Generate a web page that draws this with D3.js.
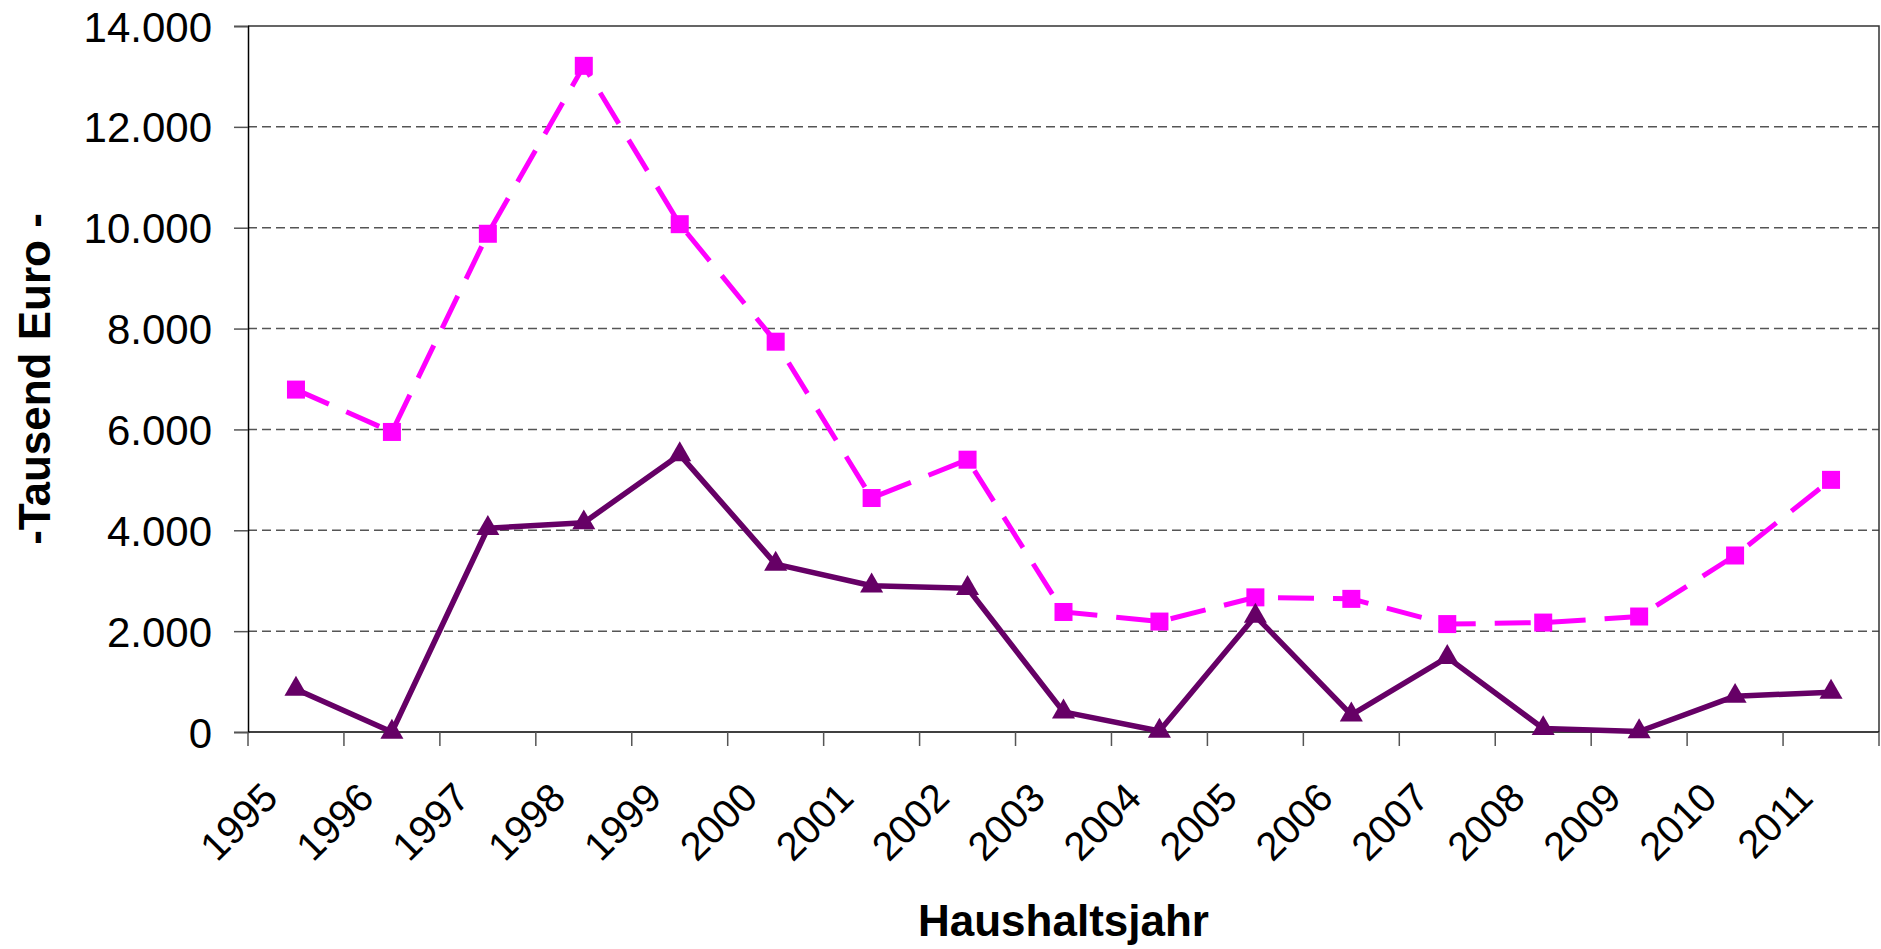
<!DOCTYPE html>
<html>
<head>
<meta charset="utf-8">
<script src="https://cdn.jsdelivr.net/npm/d3@7"></script>
<style>
  body { margin: 0; background: #fff; }
  svg { display: block; font-family: "Liberation Sans", Arial, sans-serif; }
</style>
</head>
<body>
<svg id="chart" width="1881" height="949"></svg>
<script>
const years = ["1995", "1996", "1997", "1998", "1999", "2000", "2001", "2002", "2003",
  "2004", "2005", "2006", "2007", "2008", "2009", "2010", "2011"];
// dashed magenta series (squares)
const seriesA = [6790, 5950, 9880, 13210, 10070, 7740, 4640, 5400, 2380,
  2190, 2670, 2640, 2140, 2170, 2290, 3500, 5000];
// solid purple series (triangles)
const seriesB = [850, 0, 4040, 4150, 5500, 3330, 2900, 2850, 400,
  20, 2300, 340, 1480, 70, 10, 710, 790];
const yTicks = [0, 2000, 4000, 6000, 8000, 10000, 12000, 14000];

const magenta = "#ff00ff";
const purple = "#660066";

const marginLeft = 248, marginRight = 1879, marginTop = 26, marginBottom = 732;

const svg = d3.select("#chart");

const x = d3.scaleBand().domain(years).range([marginLeft, marginRight]).padding(0);
const y = d3.scaleLinear().domain([0, 14000]).range([marginBottom, marginTop]);
const cx = (d, i) => x(years[i]) + x.bandwidth() / 2;

const fmt = (v) => d3.format(",")(v).replace(/,/g, ".");

// gridlines
svg.append("g")
  .selectAll("line")
  .data(yTicks.filter((t) => t > 0 && t < 14000))
  .enter()
  .append("line")
  .attr("x1", marginLeft)
  .attr("x2", marginRight)
  .attr("y1", (d) => y(d))
  .attr("y2", (d) => y(d))
  .style("stroke", "#555")
  .style("stroke-width", 1.5)
  .style("stroke-dasharray", "9,5");

// plot border (top and right)
svg.append("path")
  .attr("d", `M${marginLeft},${marginTop}H${marginRight}V${marginBottom}`)
  .style("fill", "none")
  .style("stroke", "#333")
  .style("stroke-width", 1.5);

// y axis
const yAxis = svg.append("g")
  .attr("transform", `translate(${marginLeft},0)`)
  .call(d3.axisLeft(y).tickValues(yTicks).tickFormat(fmt).tickSize(14).tickPadding(22));
yAxis.select(".domain").style("stroke", "#000").style("stroke-width", 1.5);
yAxis.selectAll(".tick line").style("stroke", "#555").style("stroke-width", 1.5);
yAxis.selectAll(".tick text")
  .style("font-size", "42px")
  .style("fill", "#000")
  .attr("dy", "0.36em");

// x axis baseline
svg.append("line")
  .attr("x1", marginLeft)
  .attr("x2", marginRight)
  .attr("y1", marginBottom)
  .attr("y2", marginBottom)
  .style("stroke", "#000")
  .style("stroke-width", 1.5);

// x ticks at category boundaries
const bounds = years.map((d) => x(d)).concat([marginRight]);
svg.append("g")
  .selectAll("line")
  .data(bounds)
  .enter()
  .append("line")
  .attr("x1", (d) => d)
  .attr("x2", (d) => d)
  .attr("y1", marginBottom)
  .attr("y2", marginBottom + 14)
  .style("stroke", "#555")
  .style("stroke-width", 1.5);

// x tick labels, rotated
svg.append("g")
  .selectAll("text")
  .data(years)
  .enter()
  .append("text")
  .attr("transform", (d) => `translate(${x(d) + x.bandwidth() / 2 - 16},${marginBottom + 68}) rotate(-45)`)
  .attr("text-anchor", "end")
  .style("font-size", "40px")
  .style("fill", "#000")
  .text((d) => d);

// lines
const line = d3.line().x(cx).y((d) => y(d));

svg.append("path")
  .datum(seriesA)
  .attr("d", line)
  .style("fill", "none")
  .style("stroke", magenta)
  .style("stroke-width", 5)
  .style("stroke-dasharray", "36,19");

svg.append("path")
  .datum(seriesB)
  .attr("d", line)
  .style("fill", "none")
  .style("stroke", purple)
  .style("stroke-width", 5.5)
  .style("stroke-linejoin", "round");

// markers
svg.append("g")
  .selectAll("rect")
  .data(seriesA)
  .enter()
  .append("rect")
  .attr("x", (d, i) => cx(d, i) - 9)
  .attr("y", (d) => y(d) - 9)
  .attr("width", 18)
  .attr("height", 18)
  .style("fill", magenta);

const tri = d3.symbol().type(d3.symbolTriangle).size(230);
svg.append("g")
  .selectAll("path")
  .data(seriesB)
  .enter()
  .append("path")
  .attr("d", tri)
  .attr("transform", (d, i) => `translate(${cx(d, i)},${y(d)})`)
  .style("fill", purple);

// axis titles
svg.append("text")
  .attr("transform", `translate(50,${(marginTop + marginBottom) / 2}) rotate(-90)`)
  .attr("text-anchor", "middle")
  .style("font-size", "44px")
  .style("font-weight", "bold")
  .text("-Tausend Euro -");

svg.append("text")
  .attr("x", (marginLeft + marginRight) / 2)
  .attr("y", 936)
  .attr("text-anchor", "middle")
  .style("font-size", "44px")
  .style("font-weight", "bold")
  .text("Haushaltsjahr");
</script>
</body>
</html>
